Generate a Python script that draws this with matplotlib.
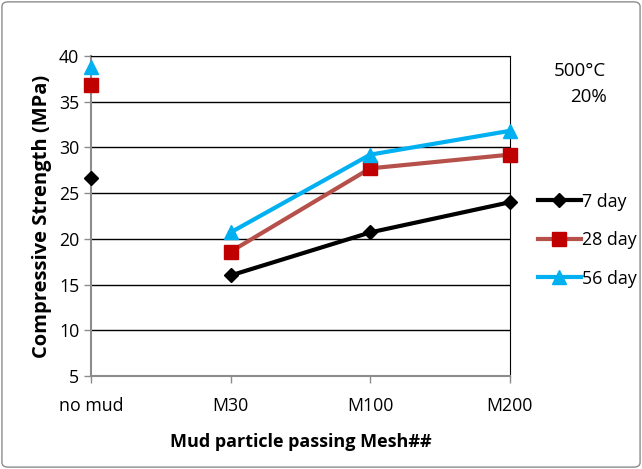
import matplotlib.pyplot as plt
import numpy as np
from matplotlib.patches import FancyBboxPatch

plt.rcParams["font.family"] = ["Open Sans", "DejaVu Sans"]

categories = ["no mud", "M30", "M100", "M200"]
day7 = [26.7, 16.0, 20.7, 24.0]
day28 = [36.8, 18.6, 27.7, 29.2]
day56 = [38.8, 20.7, 29.2, 31.8]

fig = plt.figure(figsize=(6.42, 4.69), dpi=100)
ax = fig.add_axes([0.1417, 0.198, 0.6523, 0.683])

x = np.arange(len(categories))

series = [
    (day7, "7 day", "black", "black", "D", 7),
    (day28, "28 day", "#B5504B", "#C00000", "s", 10.5),
    (day56, "56 day", "#00B0F0", "#00B0F0", "^", 10.5),
]
for vals, label, lc, mc, mk, ms in series:
    # first point stands alone, rest joined by a line
    ax.plot(x[1:], vals[1:], color=lc, lw=3, zorder=3, clip_on=False)
    ax.plot(x, vals, ls="none", marker=mk, ms=ms, color=mc, zorder=4, clip_on=False)
    ax.plot([], [], color=lc, lw=3, marker=mk, ms=ms, mfc=mc, mec=mc, label=label)

ax.set_xlim(0, 3)
ax.set_ylim(5, 40)
ax.set_yticks(range(5, 41, 5))
ax.set_xticks(x)
ax.set_xticklabels(categories)
ax.yaxis.grid(True, color="black", lw=1)
ax.set_axisbelow(True)

for s in ["left", "bottom"]:
    ax.spines[s].set_color("#8C8C8C")
    ax.spines[s].set_linewidth(1.5)
ax.spines["top"].set_color("black")
ax.spines["right"].set_color("black")
ax.tick_params(axis="both", colors="#8C8C8C", length=5, width=1, labelsize=12.8,
               labelcolor="black", direction="out")
ax.tick_params(axis="x", pad=10)

ax.set_ylabel("Compressive Strength (MPa)", fontsize=14.5, fontweight="bold", labelpad=5)
ax.set_xlabel("Mud particle passing Mesh##", fontsize=13, fontweight="bold", labelpad=13)

fig.text(0.904, 0.848, "500°C", fontsize=13.5, ha="center", va="center")
fig.text(0.916, 0.793, "20%", fontsize=13.5, ha="center", va="center")

ax.legend(loc="center left", bbox_to_anchor=(0.838, 0.488), bbox_transform=fig.transFigure,
          frameon=False, fontsize=12.8, handlelength=2.4, handletextpad=0.05,
          labelspacing=1.15, borderpad=0, borderaxespad=0)

border = FancyBboxPatch((0.003, 0.004), 0.994, 0.992, boxstyle="round,pad=0,rounding_size=0.01",
                        transform=fig.transFigure, fill=False, ec="#8C8C8C", lw=1)
fig.patches.append(border)

fig.savefig("out.png", dpi=100)
